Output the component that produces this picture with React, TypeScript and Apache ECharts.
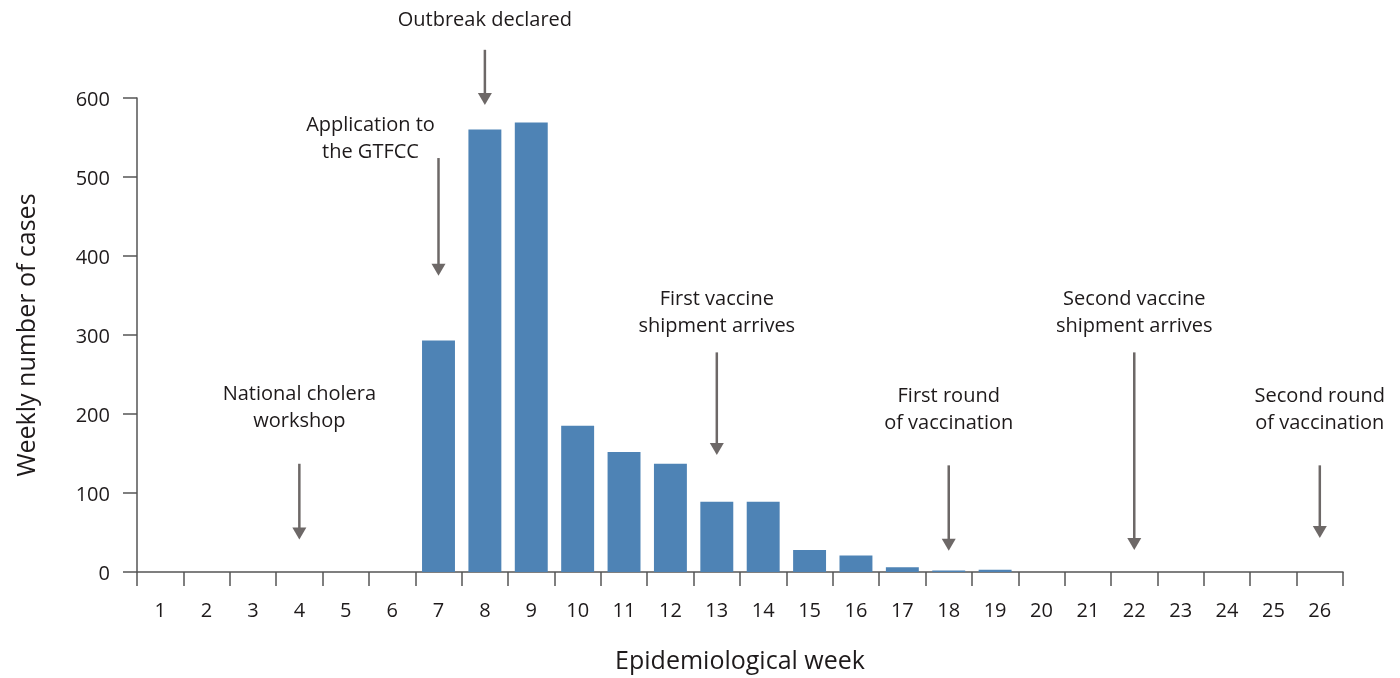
import { useEffect, useRef } from "react";
import * as echarts from "echarts";

// ---- Data ----
const weeks = ["1", "2", "3", "4", "5", "6", "7", "8", "9", "10", "11", "12", "13", "14", "15", "16", "17", "18", "19", "20", "21", "22", "23", "24", "25", "26"];
const weeklyCases = [0, 0, 0, 0, 0, 0, 293, 560, 569, 185, 152, 137, 89, 89, 28, 21, 6, 2, 3, 0, 0, 0, 0, 0, 0, 0];
const yMin = 0;
const yMax = 600;
const yInterval = 100;

// ---- Annotations (event week, text lines, values in case units for placement) ----
const annotationWeeks = ["4", "7", "8", "13", "18", "22", "26"];
const annotationTexts = [
  ["National cholera", "workshop"],
  ["Application to", "the GTFCC"],
  ["Outbreak declared"],
  ["First vaccine", "shipment arrives"],
  ["First round", "of vaccination"],
  ["Second vaccine", "shipment arrives"],
  ["Second round", "of vaccination"],
];
const annotationTextTop = [227, 568, 701, 347, 225, 347, 225];
const annotationArrowFrom = [137, 524, 661, 278, 135, 278, 135];
const annotationArrowTo = [41, 375, 591, 148, 27, 28, 43];
const annotationTextShiftX = [0, -68, 0, 0, 0, 0, 0];

const FONT = "'Open Sans', 'Noto Sans', sans-serif";
const TEXT_COLOR = "#1e1a1b";
const ARROW_COLOR = "#6d6867";
const BAR_COLOR = "#4e83b5";

export default function App() {
  const ref = useRef<HTMLDivElement>(null);

  useEffect(() => {
    if (!ref.current) return;
    const chart = echarts.init(ref.current, null, { renderer: "svg" });
    chart.setOption({
      animation: false,
      textStyle: { fontFamily: FONT },
      grid: { left: 137, right: 57, top: 98, bottom: 106 },
      xAxis: {
        type: "category",
        data: weeks,
        name: "Epidemiological week",
        nameLocation: "middle",
        nameGap: 74,
        nameTextStyle: { fontSize: 25, color: TEXT_COLOR, fontFamily: FONT },
        axisLine: { lineStyle: { color: "#555", width: 1.5 } },
        axisTick: { show: true, length: 14, interval: 0, alignWithLabel: false, lineStyle: { color: "#555", width: 1.5 } },
        axisLabel: { fontSize: 20, color: TEXT_COLOR, margin: 27, interval: 0, fontFamily: FONT },
      },
      yAxis: {
        type: "value",
        min: yMin,
        max: yMax,
        interval: yInterval,
        name: "Weekly number of cases",
        nameLocation: "middle",
        nameGap: 100,
        nameTextStyle: { fontSize: 25, color: TEXT_COLOR, fontFamily: FONT },
        axisLine: { show: true, lineStyle: { color: "#555", width: 1.5 } },
        axisTick: { show: true, length: 14, lineStyle: { color: "#555", width: 1.5 } },
        axisLabel: { fontSize: 20, color: TEXT_COLOR, margin: 27, fontFamily: FONT },
        splitLine: { show: false },
      },
      series: [
        {
          type: "bar",
          data: weeklyCases,
          barCategoryGap: "29%",
          itemStyle: { color: BAR_COLOR },
        },
      ],
    });

    const graphics: any[] = [];
    annotationWeeks.forEach((wk, i) => {
      const top = chart.convertToPixel({ gridIndex: 0 }, [wk, annotationTextTop[i]]) as number[];
      const from = chart.convertToPixel({ gridIndex: 0 }, [wk, annotationArrowFrom[i]]) as number[];
      const to = chart.convertToPixel({ gridIndex: 0 }, [wk, annotationArrowTo[i]]) as number[];
      const x = from[0];
      const lineHeight = 27;
      annotationTexts[i].forEach((line, j) => {
        graphics.push({
          type: "text",
          x: top[0] + annotationTextShiftX[i],
          y: top[1] + j * lineHeight,
          style: {
            text: line,
            fill: TEXT_COLOR,
            font: `20px ${FONT}`,
            textAlign: "center",
            textVerticalAlign: "middle",
          },
        });
      });
      const head = 12;
      graphics.push({
        type: "line",
        shape: { x1: x, y1: from[1], x2: x, y2: to[1] - head + 1 },
        style: { stroke: ARROW_COLOR, lineWidth: 2.5 },
      });
      graphics.push({
        type: "polygon",
        shape: { points: [[x - 7, to[1] - head], [x + 7, to[1] - head], [x, to[1]]] },
        style: { fill: ARROW_COLOR },
      });
    });
    chart.setOption({ graphic: graphics });

    return () => chart.dispose();
  }, []);

  return <div ref={ref} style={{ position: "fixed", left: 0, top: 0, width: 1400, height: 678 }} />;
}
